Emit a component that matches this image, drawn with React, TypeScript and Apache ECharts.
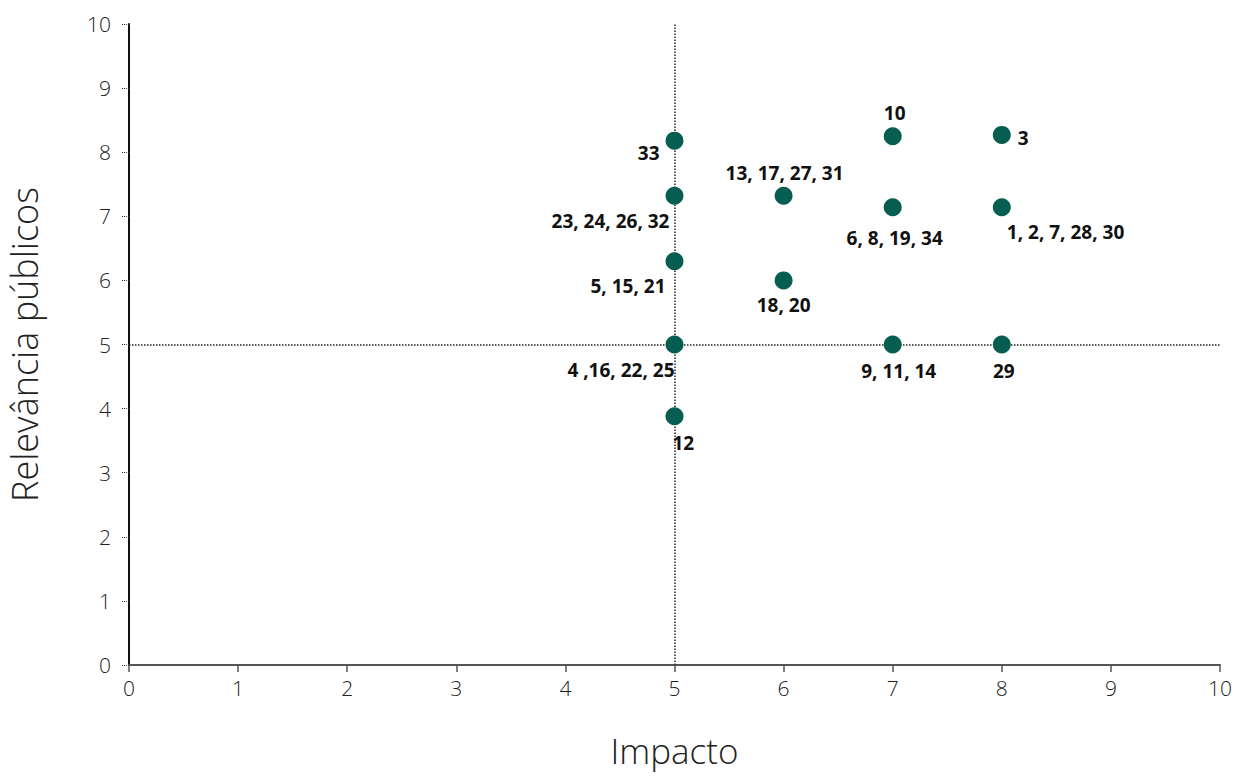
import React, { useEffect, useRef } from "react";
import * as echarts from "echarts";

const impacto = [5, 5, 5, 5, 5, 6, 6, 7, 7, 7, 8, 8, 8];
const relevancia = [8.18, 7.32, 6.3, 5.0, 3.88, 7.32, 6.0, 8.25, 7.14, 5.0, 8.27, 7.14, 5.0];
const pointLabels = [
  "33",
  "23, 24, 26, 32",
  "5, 15, 21",
  "4 ,16, 22, 25",
  "12",
  "13, 17, 27, 31",
  "18, 20",
  "10",
  "6, 8, 19, 34",
  "9, 11, 14",
  "3",
  "1, 2, 7, 28, 30",
  "29",
];
// label placement: [dx, dy, align]
const labelPlacement: [number, number, string][] = [
  [-15, 12, "right"],
  [-5, 25, "right"],
  [-9, 25, "right"],
  [0, 25, "right"],
  [-2, 27, "left"],
  [1, -23, "center"],
  [0, 25, "center"],
  [2, -23, "center"],
  [2, 31, "center"],
  [6, 26, "center"],
  [16, 3, "left"],
  [5, 25, "left"],
  [2, 26, "center"],
];
const ticks = [0, 1, 2, 3, 4, 5, 6, 7, 8, 9, 10];

export default function App() {
  const ref = useRef<HTMLDivElement>(null);
  useEffect(() => {
    if (!ref.current) return;
    const chart = echarts.init(ref.current, null, { renderer: "svg" });
    const data = impacto.map((x, i) => ({
      value: [x, relevancia[i]],
      name: pointLabels[i],
      label: {
        offset: [labelPlacement[i][0], labelPlacement[i][1]],
        align: labelPlacement[i][2],
      },
    }));
    chart.setOption({
      animation: false,
      grid: { left: 129, right: 14, top: 24, bottom: 111, containLabel: false, outerBoundsMode: "none" },
      xAxis: {
        type: "value",
        min: 0,
        max: 10,
        interval: 1,
        name: "Impacto",
        nameLocation: "middle",
        nameGap: 68,
        nameTextStyle: { fontFamily: "Open Sans", fontSize: 35, color: "#222", fontWeight: 300 },
        axisLine: { show: true, lineStyle: { color: "#555", width: 2 } },
        axisTick: { show: true, length: 7, lineStyle: { color: "#555", width: 1.5 } },
        axisLabel: {
          fontFamily: "Open Sans",
          fontWeight: 300,
          fontSize: 21,
          color: "#222",
          margin: 12,
          formatter: (v: number) => (ticks.includes(v) ? String(v) : ""),
        },
        splitLine: { show: false },
      },
      yAxis: {
        type: "value",
        min: 0,
        max: 10,
        interval: 1,
        name: "Relevância públicos",
        nameLocation: "middle",
        nameGap: 87,
        nameRotate: 90,
        nameTextStyle: { fontFamily: "Open Sans", fontSize: 36, color: "#222", fontWeight: 300 },
        axisLine: { show: true, lineStyle: { color: "#111", width: 2 } },
        axisTick: { show: true, length: 7, lineStyle: { color: "#333", width: 1, type: "dotted" } },
        axisLabel: {
          fontFamily: "Open Sans",
          fontWeight: 300,
          fontSize: 21,
          color: "#222",
          margin: 18,
        },
        splitLine: { show: false },
      },
      series: [
        {
          type: "scatter",
          data,
          symbol: "circle",
          symbolSize: 18,
          itemStyle: { color: "#055e4f", opacity: 1 },
          z: 3,
          label: {
            show: true,
            position: "inside",
            formatter: (p: any) => p.name,
            fontFamily: "Open Sans",
            fontWeight: "bold",
            fontSize: 19,
            color: "#111",
            verticalAlign: "middle",
          },
          markLine: {
            silent: true,
            symbol: "none",
            label: { show: false },
            lineStyle: { color: "#222", type: "dotted", width: 1.5 },
            data: [{ xAxis: 5 }, { yAxis: 5 }],
            z: 1,
          },
        },
      ],
    });
    return () => chart.dispose();
  }, []);
  return <div ref={ref} style={{ width: 1234, height: 776, position: "absolute", left: 0, top: 0 }} />;
}
